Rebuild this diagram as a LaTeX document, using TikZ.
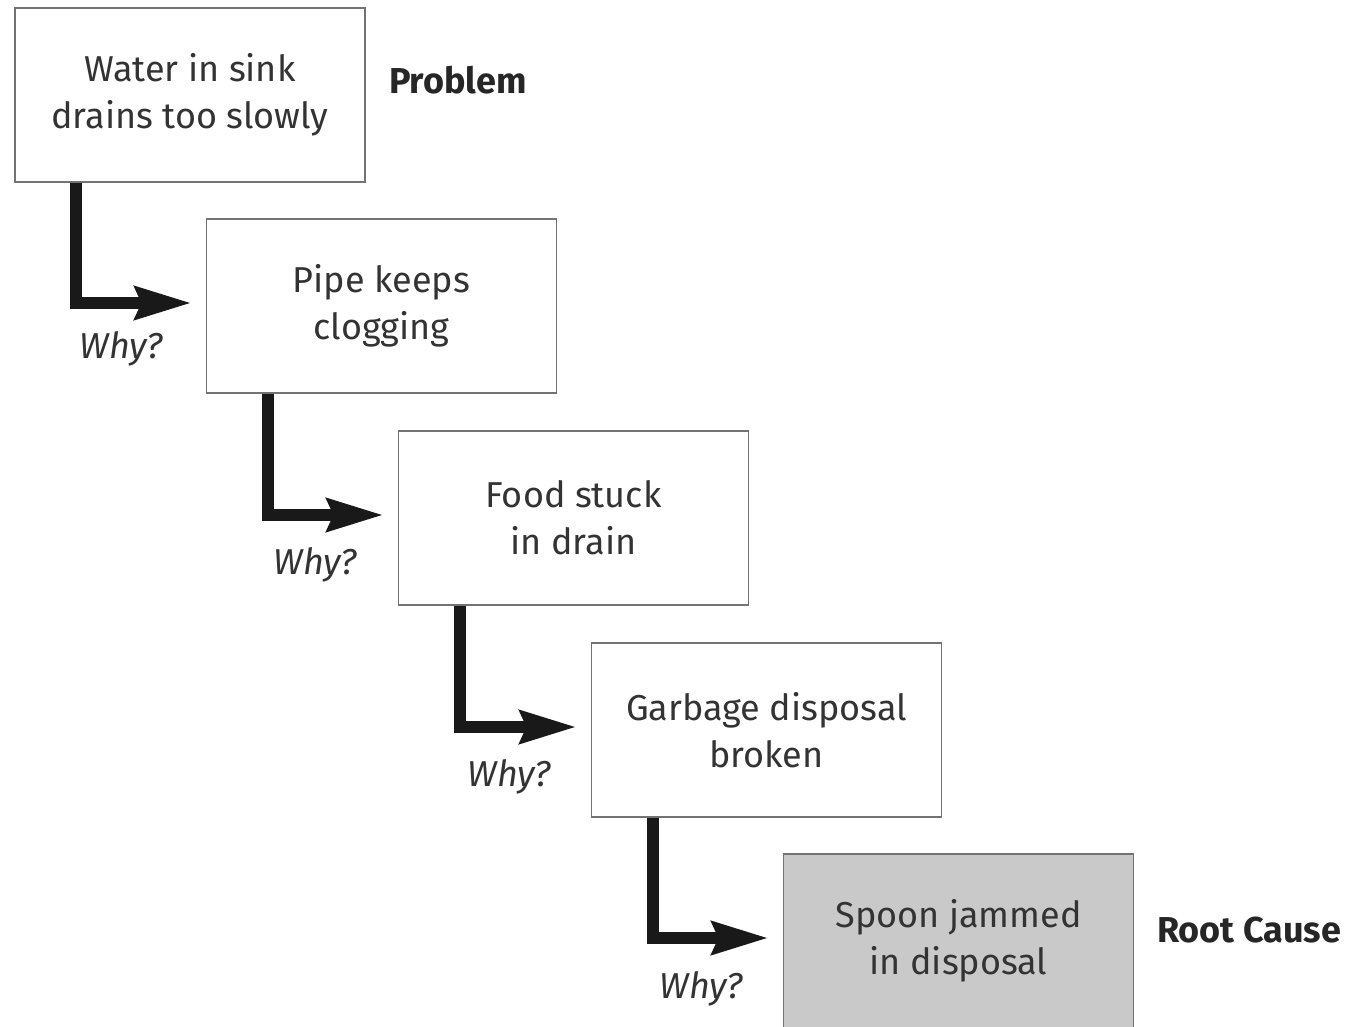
\documentclass[tikz,border=0pt]{standalone}
\usepackage{fontspec}
\setmainfont{Fira Sans}
\usetikzlibrary{arrows.meta}
\definecolor{boxline}{gray}{0.45}
\definecolor{txt}{gray}{0.2}
\definecolor{rootfill}{gray}{0.79}
\begin{document}
\begin{tikzpicture}[x=0.5pt,y=-0.5pt,
  stepbox/.style={draw=boxline,line width=0.9pt,fill=white,minimum width=175pt,
    minimum height=87pt,align=center,text=txt,inner sep=0pt,
    font=\fontsize{18pt}{23.5pt}\selectfont},
  whyarrow/.style={line width=6pt,line join=miter,draw=black!90,
    -{Stealth[length=28pt,width=16pt,inset=3pt]}},
  whylabel/.style={font=\fontsize{18pt}{20pt}\selectfont\itshape,text=txt},
  tag/.style={font=\fontsize{18pt}{20pt}\selectfont\bfseries,text=black!85}]
  \useasboundingbox[fill=white] (0,0) rectangle (1361,1027);

  % the chain of causes
  \node[stepbox] (b1) at (190,95)   {Water in sink\\drains too slowly};
  \node[stepbox] (b2) at (381.5,306) {Pipe keeps\\clogging};
  \node[stepbox] (b3) at (573.5,518) {Food stuck\\in drain};
  \node[stepbox] (b4) at (766.5,730) {Garbage disposal\\broken};
  \node[stepbox,fill=rootfill] (b5) at (958.5,941) {Spoon jammed\\in disposal};

  % side labels
  \node[tag,anchor=west] (prob) at (382,80) {Problem};
  \node[tag,anchor=west] (root) at (1150,930) {Root Cause};

  % elbow connectors
  \foreach \a/\b in {b1/b2,b2/b3,b3/b4,b4/b5}{
    \draw[whyarrow] ([xshift=31pt]\a.south west) |- ([xshift=-7pt,yshift=1.5pt]\b.west);
  }

  % questions under each connector
  \node[whylabel] (q1) at (121,349) {Why?};
  \node[whylabel] (q2) at (315,565) {Why?};
  \node[whylabel] (q3) at (509,777) {Why?};
  \node[whylabel] (q4) at (701,989) {Why?};
\end{tikzpicture}
\end{document}
